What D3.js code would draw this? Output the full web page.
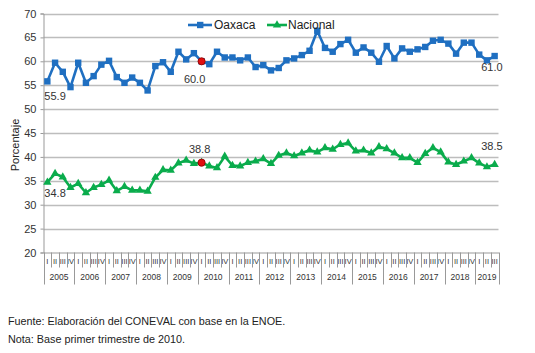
<!DOCTYPE html>
<html>
<head>
<meta charset="utf-8">
<script src="https://cdn.jsdelivr.net/npm/d3@7"></script>
<style>
  body { margin: 0; background: #fff; }
  svg { font-family: "Liberation Sans", Arial, sans-serif; }
</style>
</head>
<body>
<script>
// years and quarter labels
const years = ['2005', '2006', '2007', '2008', '2009', '2010', '2011', '2012', '2013', '2014', '2015', '2016', '2017', '2018', '2019']
const quarterNames = ['I', 'II', 'III', 'IV']

// series values, 2005-I .. 2019-III
const oaxaca = [55.8, 59.7, 57.8, 54.6, 59.7, 55.5, 56.9, 59.3, 60.1, 56.7, 55.5, 56.6, 55.5, 53.9, 59.0,
  59.8, 57.8, 62.0, 60.4, 61.7, 60.0, 59.4, 62.0, 60.8, 60.8, 60.2, 60.8, 58.8, 59.2, 58.1,
  58.6, 60.2, 60.6, 61.3, 62.2, 66.4, 62.8, 62.0, 63.6, 64.5, 61.8, 62.9, 61.8, 59.9, 63.2,
  60.6, 62.7, 62.0, 62.5, 63.0, 64.3, 64.5, 63.7, 61.6, 63.9, 63.9, 61.4, 60.2, 61.1]
const nacional = [34.7, 36.5, 35.8, 33.6, 34.4, 32.5, 33.6, 34.2, 35.1, 32.9, 33.8, 33.0, 33.0, 32.8, 35.7,
  37.3, 37.2, 38.7, 39.3, 38.6, 38.8, 38.1, 37.7, 40.1, 38.2, 38.1, 38.8, 39.1, 39.6, 38.6,
  40.3, 40.8, 40.2, 40.8, 41.4, 41.0, 41.9, 41.6, 42.6, 42.9, 41.2, 41.4, 40.8, 42.1, 41.7,
  40.8, 39.8, 39.8, 38.8, 40.7, 41.9, 41.0, 38.9, 38.4, 39.1, 39.8, 38.7, 37.9, 38.4]

// labelled points: [series, index, text]
const labels = [
  ['oax', 0, '55.9'], ['oax', 20, '60.0'], ['oax', 58, '61.0'],
  ['nac', 0, '34.8'], ['nac', 20, '38.8'], ['nac', 58, '38.5']
]
const baseIndex = 20 // 2010-I
const yTicks = [20, 25, 30, 35, 40, 45, 50, 55, 60, 65, 70]

const w = 535
const h = 353
const mLeft = 43.5
const mRight = 498.5
const mTop = 13.5
const mBottom = 252.5

const blue = '#1f6fc1'
const green = '#0aac4c'

const idx = d3.range(oaxaca.length)
const quarterLabel = i => quarterNames[i % 4]

const x = d3.scaleBand().domain(idx).range([mLeft, mRight]).padding(0)
const y = d3.scaleLinear().domain([20, 70]).range([mBottom, mTop])
const cx = i => x(i) + x.bandwidth() / 2

const svg = d3.select('body').append('svg')
  .attr('width', w)
  .attr('height', h)

// grid lines
svg.append('g')
  .selectAll('line')
  .data(yTicks.slice(1))
  .enter()
  .append('line')
  .attr('x1', mLeft).attr('x2', mRight)
  .attr('y1', d => Math.round(y(d)) + 0.5).attr('y2', d => Math.round(y(d)) + 0.5)
  .attr('stroke', '#bdbdbd')
  .attr('stroke-width', 1.3)

// y axis
const yAxis = d3.axisLeft(y).tickValues(yTicks).tickSize(3).tickPadding(4)
const gy = svg.append('g')
  .attr('transform', `translate(${mLeft},0)`)
  .call(yAxis)
gy.select('.domain').attr('stroke', '#999')
gy.selectAll('.tick line').attr('stroke', '#999')
gy.selectAll('.tick text').attr('font-size', 11).attr('fill', '#333')

svg.append('text')
  .attr('transform', `translate(19,${(mTop + mBottom) / 2 + 12}) rotate(-90)`)
  .attr('text-anchor', 'middle')
  .attr('font-size', 11)
  .attr('fill', '#222')
  .text('Porcentaje')

// x axis: quarters
const xAxis = d3.axisBottom(x).tickFormat(quarterLabel).tickSize(0).tickPadding(6)
const gx = svg.append('g')
  .attr('transform', `translate(0,${mBottom})`)
  .call(xAxis)
gx.select('.domain').attr('stroke', '#999')
gx.selectAll('.tick text').attr('font-size', 7.5).attr('fill', '#333')

// band boundaries
const bounds = d3.range(oaxaca.length + 1)
svg.append('g')
  .selectAll('line')
  .data(bounds)
  .enter()
  .append('line')
  .attr('x1', i => Math.round(mLeft + i * x.bandwidth()) + 0.5)
  .attr('x2', i => Math.round(mLeft + i * x.bandwidth()) + 0.5)
  .attr('y1', mBottom)
  .attr('y2', i => (i % 4 === 0 || i === oaxaca.length) ? mBottom + 32 : mBottom + 15)
  .attr('stroke', '#999')
  .attr('stroke-width', 1)

// year labels
svg.append('g')
  .selectAll('text')
  .data(years)
  .enter()
  .append('text')
  .attr('x', (d, k) => {
    const a = k * 4
    const b = Math.min(k * 4 + 4, oaxaca.length)
    return mLeft + (a + b) / 2 * x.bandwidth()
  })
  .attr('y', mBottom + 27)
  .attr('text-anchor', 'middle')
  .attr('font-size', 8.5)
  .attr('fill', '#333')
  .text(d => d)

// lines
const line = d3.line().x((d, i) => cx(i)).y(d => y(d))

svg.append('path')
  .datum(oaxaca)
  .attr('d', line)
  .attr('fill', 'none')
  .attr('stroke', blue)
  .attr('stroke-width', 2.6)
  .attr('stroke-linejoin', 'round')

svg.append('path')
  .datum(nacional)
  .attr('d', line)
  .attr('fill', 'none')
  .attr('stroke', green)
  .attr('stroke-width', 2.6)
  .attr('stroke-linejoin', 'round')

// markers
svg.append('g')
  .selectAll('rect')
  .data(oaxaca)
  .enter()
  .append('rect')
  .attr('x', (d, i) => cx(i) - 3.2)
  .attr('y', d => y(d) - 3.2)
  .attr('width', 6.4)
  .attr('height', 6.4)
  .attr('fill', blue)

const tri = d3.symbol().type(d3.symbolTriangle).size(30)
svg.append('g')
  .selectAll('path')
  .data(nacional)
  .enter()
  .append('path')
  .attr('d', tri)
  .attr('transform', (d, i) => `translate(${cx(i)},${y(d)})`)
  .attr('fill', green)

// base quarter markers
svg.append('g')
  .selectAll('circle')
  .data([oaxaca[baseIndex], nacional[baseIndex]])
  .enter()
  .append('circle')
  .attr('cx', cx(baseIndex))
  .attr('cy', d => y(d))
  .attr('r', 3.6)
  .attr('fill', '#e01010')
  .attr('stroke', '#8a0000')
  .attr('stroke-width', 0.8)

// data labels
const labelPos = {
  'oax0': [0, 19, 'start', -3],
  'oax20': [0, 22, 'middle', -7],
  'oax58': [0, 15, 'end', 8],
  'nac0': [0, 15, 'start', -3],
  'nac20': [0, -10, 'middle', -2],
  'nac58': [0, -15, 'end', 8]
}
svg.append('g')
  .selectAll('text')
  .data(labels)
  .enter()
  .append('text')
  .attr('x', d => cx(d[1]) + labelPos[d[0] + d[1]][3])
  .attr('y', d => y((d[0] === 'oax' ? oaxaca : nacional)[d[1]]) + labelPos[d[0] + d[1]][1])
  .attr('text-anchor', d => labelPos[d[0] + d[1]][2])
  .attr('font-size', 11)
  .attr('fill', '#333')
  .text(d => d[2])

// legend
const legend = svg.append('g').attr('transform', 'translate(188,25)')
legend.append('line').attr('x1', 0).attr('x2', 24).attr('stroke', blue).attr('stroke-width', 2.6)
legend.append('rect').attr('x', 9).attr('y', -3.2).attr('width', 6.4).attr('height', 6.4).attr('fill', blue)
legend.append('text').attr('x', 26).attr('y', 4).attr('font-size', 12).attr('fill', '#222').text('Oaxaca')
legend.append('line').attr('x1', 79).attr('x2', 99).attr('stroke', green).attr('stroke-width', 2.6)
legend.append('path').attr('d', tri).attr('transform', 'translate(89,0)').attr('fill', green)
legend.append('text').attr('x', 100).attr('y', 4).attr('font-size', 12).attr('fill', '#222').text('Nacional')

// notes
svg.append('text')
  .attr('x', 8).attr('y', 325)
  .attr('font-size', 10.8).attr('fill', '#222')
  .text('Fuente: Elaboración del CONEVAL con base en la ENOE.')
svg.append('text')
  .attr('x', 8).attr('y', 343)
  .attr('font-size', 10.8).attr('fill', '#222')
  .text('Nota: Base primer trimestre de 2010.')
</script>
</body>
</html>
